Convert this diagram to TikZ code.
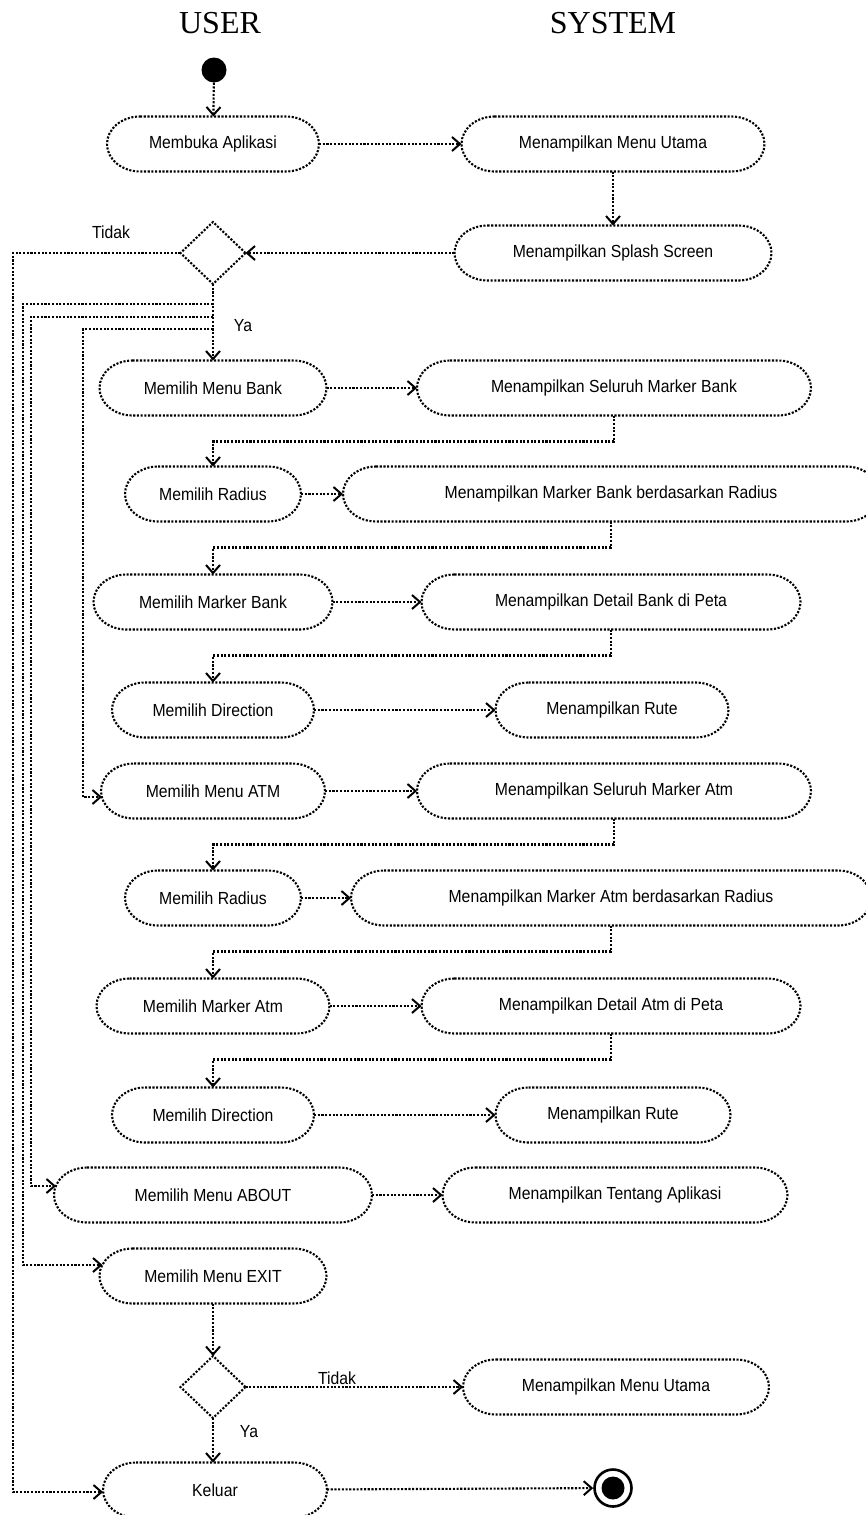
\documentclass[tikz,border=0pt]{standalone}
\usepackage{fontspec}
\setmainfont{Liberation Serif}
\newfontfamily\lsans[FakeStretch=0.9]{Liberation Sans}
\usetikzlibrary{arrows.meta,shapes.geometric,calc}
\tikzset{
  dotline/.style={line width=2.1pt, dash pattern=on 2.1pt off 1.6pt},
  act/.style={minimum height=55pt, inner sep=0pt, outer sep=0pt,
    font=\lsans\fontsize{17.5}{20}\selectfont},
  dec/.style={draw, dotline, diamond, minimum width=65pt, minimum height=62pt, inner sep=0pt, outer sep=0pt},
  flow/.style={dotline, -{Straight Barb[length=8pt,width=14pt,line width=2pt]}},
  lab/.style={font=\lsans\fontsize{17.5}{20}\selectfont, inner sep=0pt},
  head/.style={font=\fontsize{32}{36}\selectfont, anchor=base, inner sep=0pt}
}
\begin{document}
\begin{tikzpicture}[x=1pt,y=-1pt]
\useasboundingbox[fill=white] (0,0) rectangle (865,1515);
% headers
\node[head] (hu) at (220,33) {USER};
\node[head] (hs) at (613,33) {SYSTEM};
% start
\node[circle, fill=black, minimum size=25pt, inner sep=0pt] (st) at (214,70) {};
% activities
\node[act, minimum width=212pt] (a1) at (213,144) {Membuka Aplikasi};
\node[act, minimum width=303pt] (s1) at (613,144) {Menampilkan Menu Utama};
\node[act, minimum width=317pt] (s2) at (613,253) {Menampilkan Splash Screen};
\node[dec] (d1) at (213,253) {};
\node[act, minimum width=227pt] (a2) at (213,388) {Memilih Menu Bank};
\node[act, minimum width=394pt] (s3) at (614,388) {Menampilkan Seluruh Marker Bank};
\node[act, minimum width=176pt] (a3) at (213,494) {Memilih Radius};
\node[act, minimum width=536pt] (s4) at (611,494) {Menampilkan Marker Bank berdasarkan Radius};
\node[act, minimum width=239pt] (a4) at (213,602) {Memilih Marker Bank};
\node[act, minimum width=379pt] (s5) at (611,602) {Menampilkan Detail Bank di Peta};
\node[act, minimum width=202pt] (a5) at (213,710) {Memilih Direction};
\node[act, minimum width=233pt] (s6) at (612,710) {Menampilkan Rute};
\node[act, minimum width=224pt] (a6) at (213,791) {Memilih Menu ATM};
\node[act, minimum width=394pt] (s7) at (614,791) {Menampilkan Seluruh Marker Atm};
\node[act, minimum width=176pt] (a7) at (213,898) {Memilih Radius};
\node[act, minimum width=520pt] (s8) at (611,898) {Menampilkan Marker Atm berdasarkan Radius};
\node[act, minimum width=233pt] (a8) at (213,1006) {Memilih Marker Atm};
\node[act, minimum width=379pt] (s9) at (611,1006) {Menampilkan Detail Atm di Peta};
\node[act, minimum width=202pt] (a9) at (213,1115) {Memilih Direction};
\node[act, minimum width=235pt] (s10) at (613,1115) {Menampilkan Rute};
\node[act, minimum width=318pt] (a10) at (213,1195) {Memilih Menu ABOUT};
\node[act, minimum width=345pt] (s11) at (615,1195) {Menampilkan Tentang Aplikasi};
\node[act, minimum width=227pt] (a11) at (213,1276) {Memilih Menu EXIT};
\node[dec] (d2) at (213,1387) {};
\node[act, minimum width=306pt] (s12) at (616,1387) {Menampilkan Menu Utama};
\node[act, minimum width=224pt] (a12) at (215,1490) {Keluar};
% activity outlines (elliptic ends)
\foreach \n in {a1,s1,s2,a2,s3,a3,s4,a4,s5,a5,s6,a6,s7,a7,s8,a8,s9,a9,s10,a10,s11,a11,s12,a12}
  \draw[dotline] ($(\n.north west)+(33pt,0pt)$) -- ($(\n.north east)+(-33pt,0pt)$)
    arc[start angle=90,end angle=-90,x radius=33pt,y radius=27.5pt]
    -- ($(\n.south west)+(33pt,0pt)$)
    arc[start angle=270,end angle=90,x radius=33pt,y radius=27.5pt] -- cycle;
% end
\node[circle, draw, line width=2.6pt, minimum size=37pt, inner sep=0pt] (en) at (613,1488) {};
\node[circle, fill=black, minimum size=23pt, inner sep=0pt] (enin) at (en.center) {};
% bus coordinates
\coordinate (L1) at (13,0);
\coordinate (L2) at (23,0);
\coordinate (L3) at (31,0);
\coordinate (L4) at (83,0);
\coordinate (b1) at (213,304);
\coordinate (b2) at (213,317);
\coordinate (b3) at (213,329);
% labels
\node[lab] (t1) at (111,232) {Tidak};
\node[lab] (y1) at (243,326) {Ya};
\node[lab] (t2) at (337,1378) {Tidak};
\node[lab] (y2) at (249,1432) {Ya};
% connectors
\draw[flow] (st) -- (a1);
\draw[flow] (a1) -- (s1);
\draw[flow] (s1) -- (s2);
\draw[flow] (s2) -- (d1);
\draw[flow] (d1.west) -- (d1.west -| L1) |- ($(a12.west)+(0,2)$);
\draw[flow] (d1.south) -- (a2.north);
\draw[flow] (b1) -- (b1 -| L2) |- ($(a11.west)+(3,-11)$);
\draw[flow] (b2) -- (b2 -| L3) |- ($(a10.west)+(2,-9)$);
\draw[flow] (b3) -- (b3 -| L4) |- ($(a6.west)+(1,6)$);
\draw[flow] (a2) -- (s3);
\draw[flow] (s3.south) -- ++(0,26) -| (a3.north);
\draw[flow] (a3) -- (s4);
\draw[flow] (s4.south) -- ++(0,26) -| (a4.north);
\draw[flow] (a4) -- (s5);
\draw[flow] (s5.south) -- ++(0,26) -| (a5.north);
\draw[flow] (a5) -- (s6);
\draw[flow] (a6) -- (s7);
\draw[flow] (s7.south) -- ++(0,26) -| (a7.north);
\draw[flow] (a7) -- (s8);
\draw[flow] (s8.south) -- ++(0,26) -| (a8.north);
\draw[flow] (a8) -- (s9);
\draw[flow] (s9.south) -- ++(0,26) -| (a9.north);
\draw[flow] (a9) -- (s10);
\draw[flow] (a10) -- (s11);
\draw[flow] (a11) -- (d2);
\draw[flow] (d2) -- (s12);
\draw[flow] (d2.south) -- (d2.south |- a12.north);
\draw[flow] (a12) -- (en);
\end{tikzpicture}
\end{document}
